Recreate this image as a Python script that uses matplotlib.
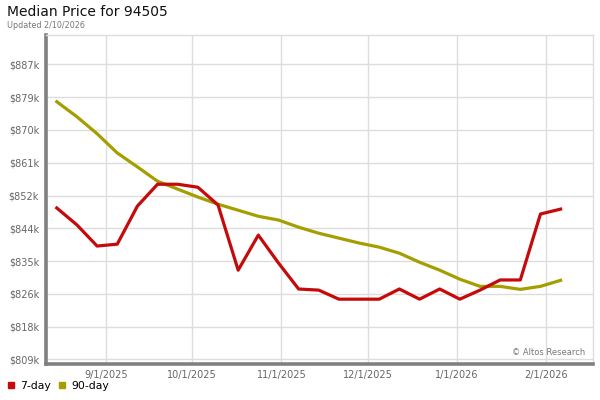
import matplotlib
matplotlib.use("Agg")
import matplotlib.pyplot as plt
from matplotlib.lines import Line2D
import numpy as np
import datetime as dt

# ---- data ----
start_date = "2025-08-15"
n_weeks = 26
price_7day = [849.2, 844.7, 839.1, 839.6, 849.7, 855.5, 855.5, 854.7, 850.0, 832.7,
              842.0, 834.6, 827.7, 827.4, 825.0, 825.0, 825.0, 827.7, 825.0, 827.7,
              825.0, 827.4, 830.1, 830.1, 847.6, 848.9]
price_90day = [877.4, 873.4, 868.9, 863.8, 860.1, 856.3, 854.2, 852.1, 850.2, 848.6,
               847.0, 846.0, 844.1, 842.5, 841.2, 839.9, 838.8, 837.2, 834.8, 832.7,
               830.3, 828.4, 828.4, 827.6, 828.4, 830.0]
ytick_labels = ["$809k", "$818k", "$826k", "$835k", "$844k", "$852k", "$861k",
                "$870k", "$879k", "$887k"]
xtick_dates = ["2025-09-01", "2025-10-01", "2025-11-01", "2025-12-01", "2026-01-01", "2026-02-01"]
xtick_labels = ["9/1/2025", "10/1/2025", "11/1/2025", "12/1/2025", "1/1/2026", "2/1/2026"]
title = "Median Price for 94505"
subtitle = "Updated 2/10/2026"
series_names = ["7-day", "90-day"]

# ---- build ----
dates = np.array(np.datetime64(start_date) + np.arange(n_weeks) * np.timedelta64(7, "D"),
                 dtype="datetime64[D]").astype(object)
y7 = np.array(price_7day) * 1000
y90 = np.array(price_90day) * 1000
yticks = 809000 + 8700 * np.arange(len(ytick_labels))

red = "#c40a0a"
olive = "#a59e00"

fig = plt.figure(figsize=(6, 4), dpi=100)
ax = fig.add_axes([46 / 600, 1 - 364 / 400, (593 - 46) / 600, (364 - 35) / 400])

ax.plot(dates, y90, color=olive, lw=2.3, solid_joinstyle="round", zorder=3)
ax.plot(dates, y7, color=red, lw=2.3, solid_joinstyle="round", zorder=4)

ax.set_ylim(807800, 895100)
ax.set_xlim(dt.datetime(2025, 8, 11, 6), dt.datetime(2026, 2, 17, 6))
ax.set_yticks(yticks)
ax.set_yticklabels(ytick_labels)
xd = [dt.date.fromisoformat(d) for d in xtick_dates]
ax.set_xticks(xd)
ax.set_xticklabels(xtick_labels)

ax.grid(True, color="#dddddd", lw=1.0)
ax.set_axisbelow(True)
ax.tick_params(axis="both", length=0, labelsize=7, labelcolor="#666666")
ax.tick_params(axis="y", pad=5)
ax.tick_params(axis="x", pad=4)

for s in ["top", "right"]:
    ax.spines[s].set_color("#dddddd")
    ax.spines[s].set_linewidth(1.0)
for s in ["left", "bottom"]:
    ax.spines[s].set_color("#808080")
    ax.spines[s].set_linewidth(2.6)

ax.text(0.985, 0.02, "© Altos Research", transform=ax.transAxes, ha="right", va="bottom",
        fontsize=6, color="#777777")

fig.text(7 / 600, 1 - 12 / 400, title, fontsize=10, color="#111111", va="center", ha="left")
fig.text(7 / 600, 1 - 25 / 400, subtitle, fontsize=5.8, color="#777777", va="center", ha="left")

handles = [Line2D([], [], ls="none", marker="s", ms=5, color=red),
           Line2D([], [], ls="none", marker="s", ms=5, color=olive)]
fig.legend(handles, series_names, loc="center left", bbox_to_anchor=(4 / 600, 1 - 386 / 400),
           ncol=2, frameon=False, fontsize=7.8, handlelength=0.8, handletextpad=0.5,
           columnspacing=0.6, borderaxespad=0, borderpad=0.2)

fig.savefig("out.png", dpi=100)
